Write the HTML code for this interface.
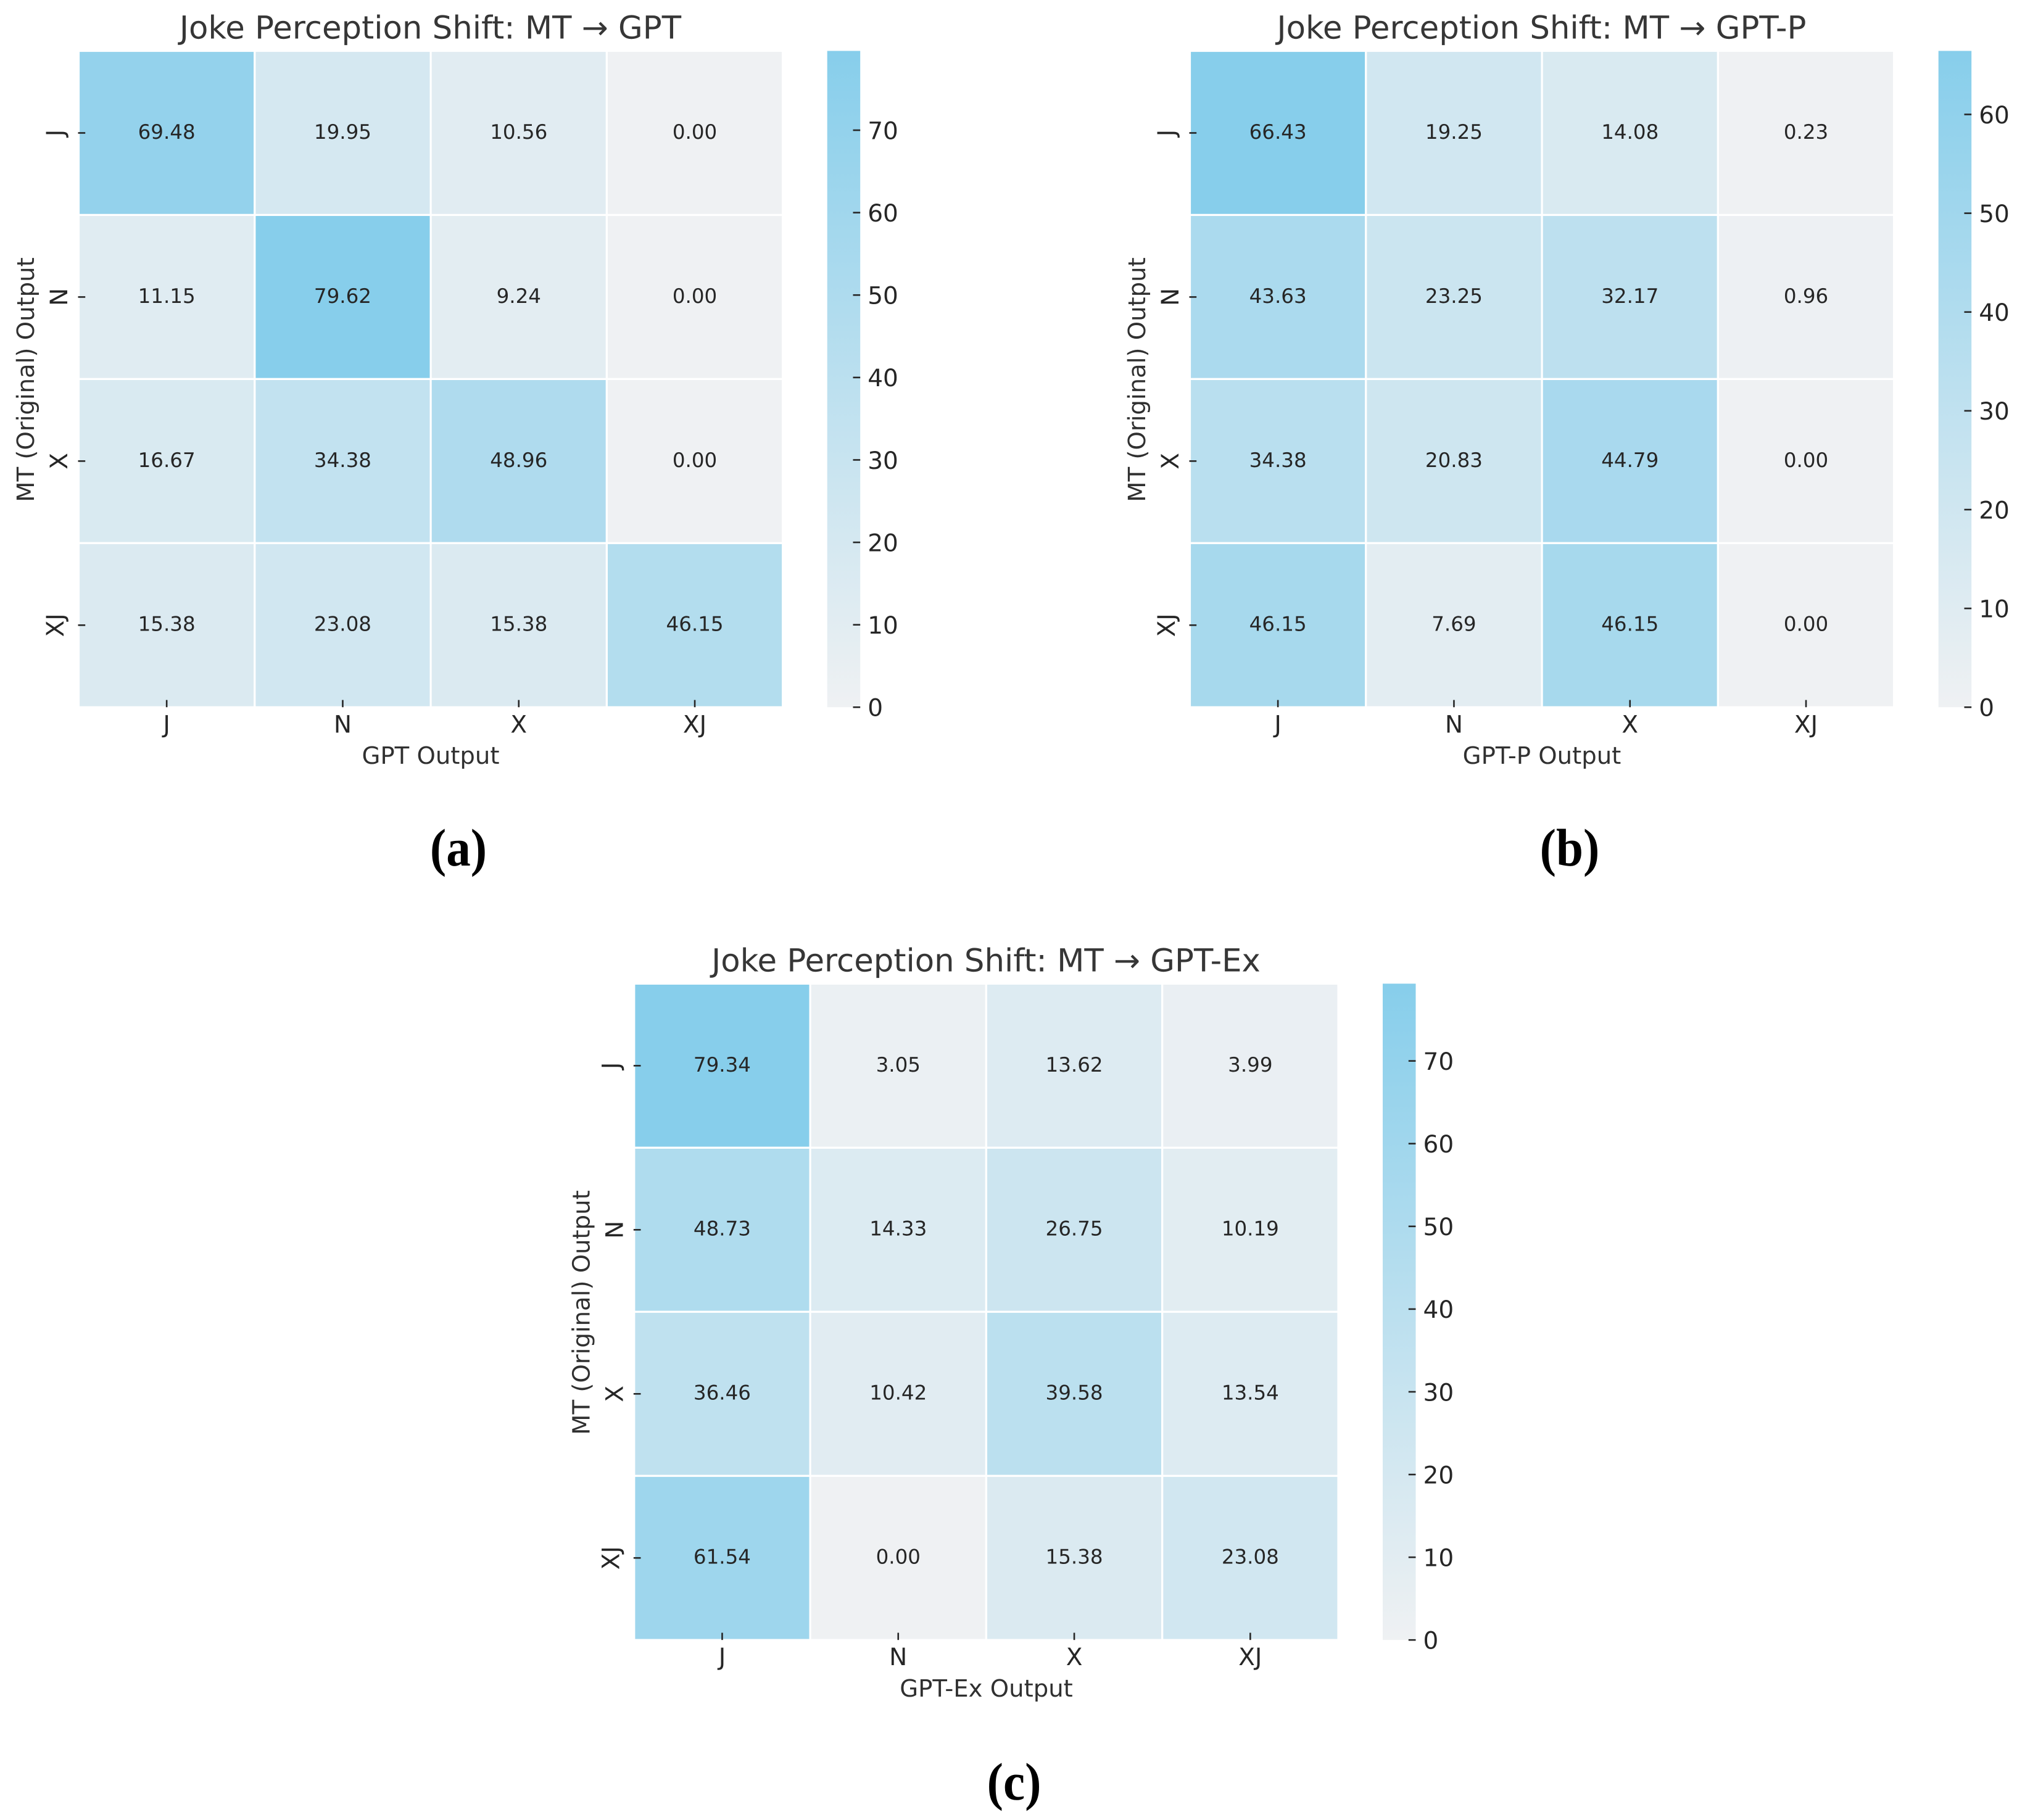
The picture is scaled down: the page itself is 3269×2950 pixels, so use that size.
<!DOCTYPE html>
<html lang="en">
<head>
<meta charset="utf-8">
<title>Joke Perception Shift</title>
<style>
  html, body { margin: 0; padding: 0; background: #fff; }
  svg { display: block; text-rendering: geometricPrecision; }
  text { font-family: "DejaVu Sans", "Liberation Sans", sans-serif; }
  .title { font-size: 51.3px; fill: #363636; text-anchor: middle; }
  .axis-label { font-size: 38.6px; fill: #303030; text-anchor: middle; }
  .tick-label { font-size: 39px; fill: #262626; }
  .annot { font-size: 32.5px; fill: #262626; text-anchor: middle; }
  .caption { font-family: "Liberation Serif", serif; font-weight: bold; font-size: 86px; fill: #000; text-anchor: middle; }
</style>
</head>
<body>
<svg id="figure" xmlns="http://www.w3.org/2000/svg" width="3269" height="2950" viewBox="0 0 3269 2950">
  <defs>
    <linearGradient id="cbar-gradient" x1="0" y1="1" x2="0" y2="0">
      <stop offset="0" stop-color="#eff1f3"/>
      <stop offset="1" stop-color="#87ceeb"/>
    </linearGradient>
  </defs>
  <rect x="0" y="0" width="3269" height="2950" fill="#ffffff"/>

  <g id="panel-a"></g>
  <g id="panel-b"></g>
  <g id="panel-c"></g>

  <text class="title" x="697.5" y="62.7">Joke Perception Shift: MT → GPT</text>
  <text class="title" x="2498.5" y="62.7">Joke Perception Shift: MT → GPT-P</text>
  <text class="title" x="1598" y="1574.7">Joke Perception Shift: MT → GPT-Ex</text>

  <text class="axis-label" x="698" y="1238">GPT Output</text>
  <text class="axis-label" x="2499" y="1238">GPT-P Output</text>
  <text class="axis-label" x="1598.5" y="2750">GPT-Ex Output</text>

  <text class="axis-label" transform="translate(55 615.5) rotate(-90)">MT (Original) Output</text>
  <text class="axis-label" transform="translate(1856 615.5) rotate(-90)">MT (Original) Output</text>
  <text class="axis-label" transform="translate(955.5 2127.5) rotate(-90)">MT (Original) Output</text>

  <text class="caption" transform="translate(743 1403) scale(0.92 1)">(a)</text>
  <text class="caption" transform="translate(2544 1403) scale(0.92 1)">(b)</text>
  <text class="caption" transform="translate(1643.5 2917) scale(0.92 1)">(c)</text>
</svg>

<script>
// Chart data
const categories = ['J', 'N', 'X', 'XJ'];

const valuesA = [
  [69.48, 19.95, 10.56, 0.00],
  [11.15, 79.62, 9.24, 0.00],
  [16.67, 34.38, 48.96, 0.00],
  [15.38, 23.08, 15.38, 46.15]
];
const valuesB = [
  [66.43, 19.25, 14.08, 0.23],
  [43.63, 23.25, 32.17, 0.96],
  [34.38, 20.83, 44.79, 0.00],
  [46.15, 7.69, 46.15, 0.00]
];
const valuesC = [
  [79.34, 3.05, 13.62, 3.99],
  [48.73, 14.33, 26.75, 10.19],
  [36.46, 10.42, 39.58, 13.54],
  [61.54, 0.00, 15.38, 23.08]
];

const colorbarTicksA = [0, 10, 20, 30, 40, 50, 60, 70];
const colorbarTicksB = [0, 10, 20, 30, 40, 50, 60];
const colorbarTicksC = [0, 10, 20, 30, 40, 50, 60, 70];

// Layout constants
const PLOT_W = 1141.2;
const PLOT_H = 1063.8;
const CBAR_GAP = 72;
const CBAR_W = 53.5;
const TICK_LEN = 11.7;
const TICK_W = 2.6;
const TICK_COLOR = '#262626';
const LOW = [239, 241, 243];
const HIGH = [135, 206, 235];
const SVG_NS = 'http://www.w3.org/2000/svg';

function make(parent, tag, attrs, content) {
  const el = document.createElementNS(SVG_NS, tag);
  for (const key in attrs) el.setAttribute(key, attrs[key]);
  if (content !== undefined) el.textContent = content;
  parent.appendChild(el);
  return el;
}

function cellColor(value, vmax) {
  const t = Math.max(0, Math.min(1, value / vmax));
  const c = LOW.map((low, i) => Math.round(low + (HIGH[i] - low) * t));
  return 'rgb(' + c.join(',') + ')';
}

function drawPanel(groupId, values, colorbarTicks, left, top) {
  const group = document.getElementById(groupId);
  const vmax = Math.max(...values.flat());
  const colW = PLOT_W / categories.length;
  const rowH = PLOT_H / categories.length;
  const xBand = i => left + i * colW;
  const yBand = i => top + i * rowH;

  values.forEach((row, r) => {
    row.forEach((value, c) => {
      const cell = make(group, 'rect', {
        x: xBand(c), y: yBand(r), width: colW, height: rowH,
        fill: cellColor(value, vmax), stroke: '#ffffff', 'stroke-width': 3.2
      });
      
      
    });
  });

  values.forEach((row, r) => {
    row.forEach((value, c) => {
      const label = make(group, 'text', {
        class: 'annot', x: xBand(c) + colW / 2, y: yBand(r) + rowH / 2 + 9.4
      }, value.toFixed(2));
      
      
    });
  });

  categories.forEach((name, i) => {
    const cx = xBand(i) + colW / 2;
    const cy = yBand(i) + rowH / 2;

    const xTick = make(group, 'line', {
      x1: cx, x2: cx, y1: top + PLOT_H - TICK_LEN, y2: top + PLOT_H,
      stroke: TICK_COLOR, 'stroke-width': TICK_W
    });
    
    

    const xLabel = make(group, 'text', {
      class: 'tick-label', x: cx, y: top + PLOT_H + 41, 'text-anchor': 'middle'
    }, name);
    
    

    const yTick = make(group, 'line', {
      x1: left - 1, x2: left + TICK_LEN - 1, y1: cy, y2: cy,
      stroke: TICK_COLOR, 'stroke-width': TICK_W
    });
    
    

    const baseline = left - (name.includes('J') ? 24.5 : 18.5);
    const yLabel = make(group, 'text', {
      class: 'tick-label', 'text-anchor': 'middle',
      transform: 'translate(' + baseline + ' ' + cy + ') rotate(-90)'
    }, name);
    
    
  });

  const cbarX = left + PLOT_W + CBAR_GAP;
  const cbarScale = v => top + PLOT_H - (v / vmax) * PLOT_H;

  const cbar = make(group, 'rect', {
    x: cbarX, y: top, width: CBAR_W, height: PLOT_H, fill: 'url(#cbar-gradient)'
  });
  
  

  colorbarTicks.forEach(tick => {
    const y = cbarScale(tick);

    const mark = make(group, 'line', {
      x1: cbarX + CBAR_W - TICK_LEN, x2: cbarX + CBAR_W, y1: y, y2: y,
      stroke: TICK_COLOR, 'stroke-width': TICK_W
    });
    
    

    const label = make(group, 'text', {
      class: 'tick-label', x: cbarX + CBAR_W + 12, y: y + 14.3
    }, String(tick));
    
    
  });
}

drawPanel('panel-a', valuesA, colorbarTicksA, 127.5, 82.5);
drawPanel('panel-b', valuesB, colorbarTicksB, 1928.5, 82.5);
drawPanel('panel-c', valuesC, colorbarTicksC, 1027.8, 1594.4);
</script>
</body>
</html>
